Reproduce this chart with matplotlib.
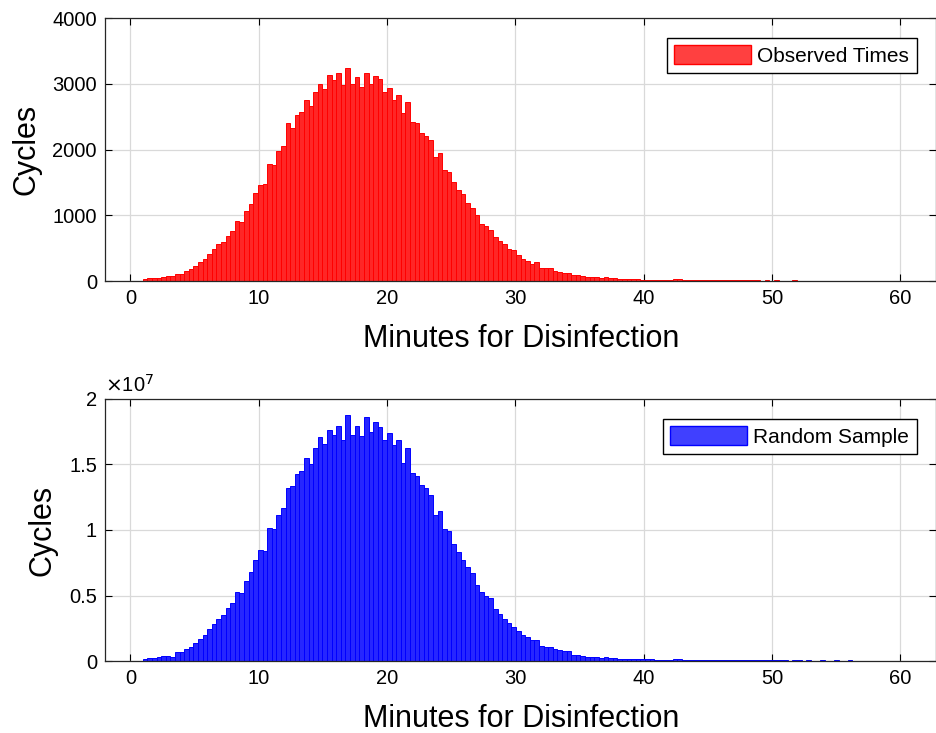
import matplotlib
matplotlib.use('Agg')
import matplotlib.pyplot as plt
from matplotlib.ticker import FuncFormatter, MultipleLocator
from matplotlib.patches import Patch

plt.rcParams['font.family'] = ['Liberation Sans', 'DejaVu Sans']

# Histogram bins (minutes)
bin_start = 0.964
bin_width = 0.359

# Observed times: cycles per bin
observed_cycles = [
    30, 40, 45, 50, 60, 70, 70, 110, 110, 157,
    183, 234, 284, 330, 411, 482, 558, 599, 690, 756,
    909, 893, 1071, 1168, 1340, 1457, 1482, 1782, 1766, 1985,
    2051, 2406, 2335, 2528, 2569, 2756, 2665, 2878, 2995, 2924,
    3127, 3051, 3162, 2985, 3239, 2995, 3107, 2944, 3162, 2995,
    3112, 3071, 2878, 2939, 2746, 2822, 2563, 2721, 2421, 2396,
    2249, 2213, 2142, 1883, 1944, 1690, 1665, 1503, 1386, 1325,
    1193, 1107, 1000, 864, 834, 783, 665, 611, 558, 492,
    467, 392, 342, 307, 256, 286, 191, 191, 191, 156,
    141, 126, 126, 85, 85, 75, 55, 65, 65, 45,
    60, 45, 45, 35, 35, 30, 25, 25, 22, 20,
    22, 18, 20, 18, 22, 28, 25, 15, 14, 12,
    15, 18, 14, 12, 16, 12, 10, 14, 12, 10,
    12, 14, 10, 9, 8, 10, 8, 9, 7, 8,
    6, 9, 7, 6, 8, 6, 5, 7, 6, 5,
    8, 6, 5, 7, 5, 4, 6, 5, 4, 5,
    4, 5, 4, 3,
]

# Random sample: cycles per bin, in millions
sample_cycles_millions = [
    0.18, 0.23, 0.25, 0.28, 0.38, 0.41, 0.33, 0.66, 0.66, 0.94,
    1.09, 1.40, 1.70, 1.98, 2.41, 2.79, 3.22, 3.48, 4.06, 4.39,
    5.30, 5.20, 6.07, 6.78, 7.69, 8.48, 8.38, 10.18, 10.10, 11.14,
    11.70, 13.22, 13.32, 14.26, 14.49, 15.51, 15.00, 16.22, 17.08, 16.57,
    17.64, 17.26, 17.92, 16.88, 18.76, 17.23, 17.97, 17.16, 18.63, 17.46,
    18.27, 17.84, 16.85, 17.41, 16.45, 16.85, 15.08, 16.27, 14.37, 14.09,
    13.45, 13.20, 12.66, 11.12, 11.42, 10.08, 9.92, 8.91, 8.30, 7.69,
    7.18, 6.73, 5.84, 5.23, 4.97, 4.80, 3.99, 3.58, 3.21, 2.93,
    2.58, 2.32, 1.96, 1.86, 1.58, 1.58, 1.15, 1.07, 1.07, 0.89,
    0.82, 0.74, 0.74, 0.46, 0.46, 0.38, 0.31, 0.33, 0.33, 0.23,
    0.28, 0.23, 0.23, 0.18, 0.18, 0.16, 0.14, 0.13, 0.12, 0.12,
    0.13, 0.11, 0.10, 0.10, 0.11, 0.14, 0.12, 0.08, 0.07, 0.07,
    0.08, 0.09, 0.07, 0.07, 0.08, 0.06, 0.06, 0.07, 0.06, 0.05,
    0.06, 0.07, 0.05, 0.05, 0.04, 0.05, 0.05, 0.05, 0.04, 0.04,
    0.03, 0.05, 0.04, 0.03, 0.04, 0.03, 0.03, 0.04, 0.03, 0.03,
    0.04, 0.03, 0.03, 0.04, 0.03, 0.02, 0.03, 0.03, 0.02, 0.03,
    0.02, 0.03, 0.02, 0.02,
]

bin_left = [bin_start + i * bin_width for i in range(len(observed_cycles))]
sample_cycles = [v * 1e6 for v in sample_cycles_millions]


def style_axes(ax):
    ax.set_xlim(-1.95, 62.8)
    ax.xaxis.set_major_locator(MultipleLocator(10))
    ax.grid(True, color='#d9d9d9', linewidth=0.9)
    ax.set_axisbelow(True)
    ax.tick_params(direction='in', top=True, right=True, length=5,
                   width=0.8, labelsize=14.5, pad=6)
    for s in ax.spines.values():
        s.set_linewidth(0.9)
        s.set_color('#262626')
    ax.set_xlabel('Minutes for Disinfection', fontsize=22, labelpad=11)
    ax.set_ylabel('Cycles', fontsize=22, labelpad=8)


def add_legend(ax, face, edge, label):
    leg = ax.legend(handles=[Patch(facecolor=face, edgecolor=edge, label=label)],
                    loc='upper right', fontsize=15, fancybox=False,
                    edgecolor='black', framealpha=1, handlelength=3.7,
                    handleheight=1.0, handletextpad=0.3,
                    borderaxespad=0.95, borderpad=0.35)
    leg.get_frame().set_linewidth(1.0)


fig = plt.figure(figsize=(9.37, 7.33), dpi=100)
ax1 = fig.add_axes([0.1124, 0.6166, 0.887, 0.3588])
ax2 = fig.add_axes([0.1124, 0.0982, 0.887, 0.3575])

# Top: observed times
ax1.bar(bin_left, observed_cycles, width=bin_width, align='edge',
        facecolor='#ff2626', edgecolor='#ff0000', linewidth=0.7)
ax1.set_ylim(0, 4000)
ax1.yaxis.set_major_locator(MultipleLocator(1000))
style_axes(ax1)
add_legend(ax1, '#ff4040', '#ff0000', 'Observed Times')

# Bottom: random sample
ax2.bar(bin_left, sample_cycles, width=bin_width, align='edge',
        facecolor='#2626ff', edgecolor='#0000ff', linewidth=0.7)
ax2.set_ylim(0, 2e7)
ax2.yaxis.set_major_locator(MultipleLocator(0.5e7))
ax2.yaxis.set_major_formatter(FuncFormatter(lambda v, p: '%g' % (v / 1e7)))
style_axes(ax2)
ax2.text(0.0, 1.012, r'$\times$10$^{7}$', transform=ax2.transAxes,
         fontsize=14.5, ha='left', va='bottom')
add_legend(ax2, '#4040ff', '#0000ff', 'Random Sample')

fig.savefig('out.png', dpi=100)
